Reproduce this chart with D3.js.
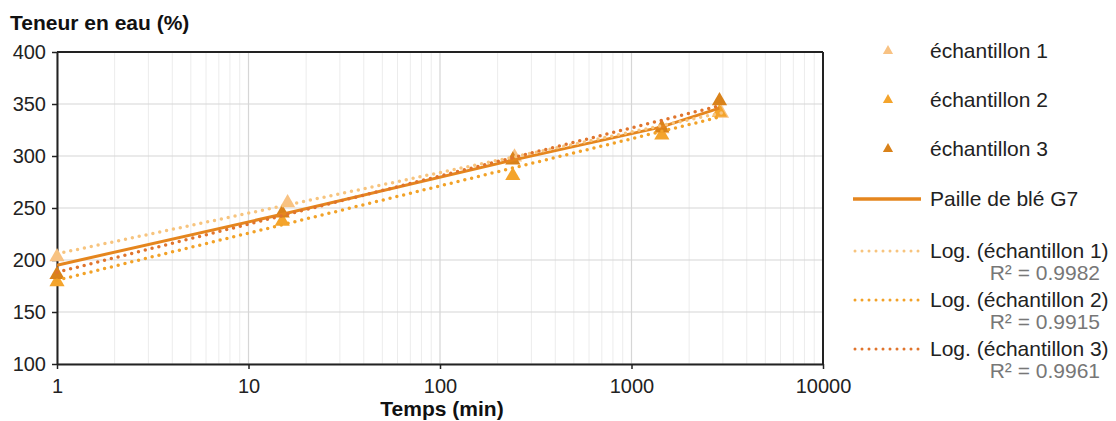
<!DOCTYPE html>
<html><head><meta charset="utf-8">
<script src="https://cdn.jsdelivr.net/npm/d3@7"></script>
<style>body{margin:0;background:#fff;}svg{display:block;font-family:"Liberation Sans",Arial,sans-serif;}</style>
</head><body><svg id="c" width="1116" height="421"></svg>
<script>
const times1 = [1, 16, 245, 1440, 2950];
const times = [1, 15, 240, 1440, 2880];
const sample1 = [204, 256, 300, 327, 342];
const sample2 = [180, 238, 282, 321, 343];
const sample3 = [187, 246, 297, 328, 354];
const average = [195, 244, 296, 328, 346];
const seriesNames = ["échantillon 1", "échantillon 2", "échantillon 3"];
const lineName = "Paille de blé G7";
const trendNames = ["Log. (échantillon 1)", "Log. (échantillon 2)", "Log. (échantillon 3)"];
const r2Labels = ["R² = 0.9982", "R² = 0.9915", "R² = 0.9961"];
const xTicks = [1, 10, 100, 1000, 10000];
const yTicks = [100, 150, 200, 250, 300, 350, 400];

const markerColors = ["#F8C283", "#F4A42C", "#D9821A"];
const trendColors = ["#F7C47E", "#F2A228", "#E0742C"];
const lineColor = "#E5861E";

const svg = d3.select("#c");
const L = 57, R = 823, T = 52, B = 364;
const x = d3.scaleLog().domain([1, 10000]).range([L, R]);
const y = d3.scaleLinear().domain([100, 400]).range([B, T]);

// minor gridlines
const minor = [];
for (let d = 1; d < 10000; d *= 10) for (let k = 2; k <= 9; k++) minor.push(d * k);
svg.append("g").selectAll("line").data(minor).join("line")
  .attr("x1", d => x(d)).attr("x2", d => x(d)).attr("y1", T).attr("y2", B)
  .attr("stroke", "#ececec").attr("stroke-width", 1);
svg.append("g").selectAll("line").data(xTicks).join("line")
  .attr("x1", d => x(d)).attr("x2", d => x(d)).attr("y1", T).attr("y2", B)
  .attr("stroke", "#d6d6d6").attr("stroke-width", 1.2);
svg.append("g").selectAll("line").data(yTicks).join("line")
  .attr("x1", L).attr("x2", R).attr("y1", d => y(d)).attr("y2", d => y(d))
  .attr("stroke", "#d6d6d6").attr("stroke-width", 1.2);

// axes
const xa = svg.append("g").attr("transform", `translate(0,${B})`)
  .call(d3.axisBottom(x).tickValues(xTicks).tickFormat(d3.format("d")).tickSize(5).tickSizeOuter(0));
const ya = svg.append("g").attr("transform", `translate(${L},0)`)
  .call(d3.axisLeft(y).tickValues(yTicks).tickSize(5).tickSizeOuter(0));
[xa, ya].forEach(a => {
  a.select(".domain").attr("stroke", "#222").attr("stroke-width", 2);
  a.selectAll(".tick line").attr("stroke", "#222").attr("stroke-width", 1.5);
  a.selectAll(".tick text").attr("fill", "#222").style("font-size", "20px").style("font-family", "Liberation Sans, Arial, sans-serif");
});
xa.selectAll(".tick text").attr("dy", "0.71em").attr("y", 15);
ya.selectAll(".tick text").attr("x", -11);
// frame top/right
svg.append("line").attr("x1", L).attr("x2", R).attr("y1", T).attr("y2", T).attr("stroke", "#222").attr("stroke-width", 2);
svg.append("line").attr("x1", R).attr("x2", R).attr("y1", T).attr("y2", B).attr("stroke", "#222").attr("stroke-width", 2);

// titles
svg.append("text").attr("x", 10).attr("y", 30).attr("font-weight", "bold").attr("font-size", 21).attr("fill", "#111").text("Teneur en eau (%)");
svg.append("text").attr("x", 442).attr("y", 416).attr("text-anchor", "middle").attr("font-weight", "bold").attr("font-size", 21).attr("fill", "#111").text("Temps (min)");

const tri = d3.symbol().type(d3.symbolTriangle);
const samples = [
  {t: times1, v: sample1}, {t: times, v: sample2}, {t: times, v: sample3}
];
// markers
samples.forEach((s, i) => {
  svg.append("g").selectAll("path").data(s.v).join("path")
    .attr("d", tri.size(100)())
    .attr("transform", (d, j) => `translate(${x(s.t[j])},${y(d) + 1})`)
    .attr("fill", markerColors[i]);
});

// solid line
svg.append("path").datum(average.map((v, j) => [times[j], v]))
  .attr("d", d3.line().x(d => x(d[0])).y(d => y(d[1])))
  .attr("fill", "none").attr("stroke", lineColor).attr("stroke-width", 3);

// log trendlines (least squares on ln t)
samples.forEach((s, i) => {
  const xs = s.t.map(Math.log), ys = s.v;
  const mx = d3.mean(xs), my = d3.mean(ys);
  const b = d3.sum(xs.map((xx, k) => (xx - mx) * (ys[k] - my))) / d3.sum(xs.map(xx => (xx - mx) ** 2));
  const a = my - b * mx;
  const tmax = d3.max(s.t);
  const pts = d3.range(0, 101).map(k => Math.exp(Math.log(tmax) * k / 100));
  svg.append("path").datum(pts)
    .attr("d", d3.line().x(d => x(d)).y(d => y(a + b * Math.log(d))))
    .attr("fill", "none").attr("stroke", trendColors[i]).attr("stroke-width", 3.5)
    .attr("stroke-linecap", "round").attr("stroke-dasharray", "0 7");
});

// legend
const lg = svg.append("g");
const legY = [51, 100, 149];
seriesNames.forEach((n, i) => {
  lg.append("path").attr("d", tri.size(45)()).attr("transform", `translate(888,${legY[i]})`).attr("fill", markerColors[i]);
  lg.append("text").attr("x", 930).attr("y", legY[i]).attr("dy", "0.35em").attr("font-size", 21).attr("fill", "#222").text(n);
});
lg.append("line").attr("x1", 853).attr("x2", 921).attr("y1", 199).attr("y2", 199).attr("stroke", lineColor).attr("stroke-width", 3.5);
lg.append("text").attr("x", 930).attr("y", 199).attr("dy", "0.35em").attr("font-size", 21).attr("fill", "#222").text(lineName);
const tY = [251, 300, 349];
trendNames.forEach((n, i) => {
  lg.append("line").attr("x1", 855).attr("x2", 920).attr("y1", tY[i]).attr("y2", tY[i])
    .attr("stroke", trendColors[i]).attr("stroke-width", 3).attr("stroke-linecap", "round").attr("stroke-dasharray", "0 7");
  lg.append("text").attr("x", 930).attr("y", tY[i]).attr("dy", "0.35em").attr("font-size", 21).attr("fill", "#222").text(n);
  lg.append("text").attr("x", 1100).attr("y", tY[i] + 22).attr("dy", "0.35em").attr("text-anchor", "end").attr("font-size", 21).attr("fill", "#777").text(r2Labels[i]);
});
</script></body></html>
